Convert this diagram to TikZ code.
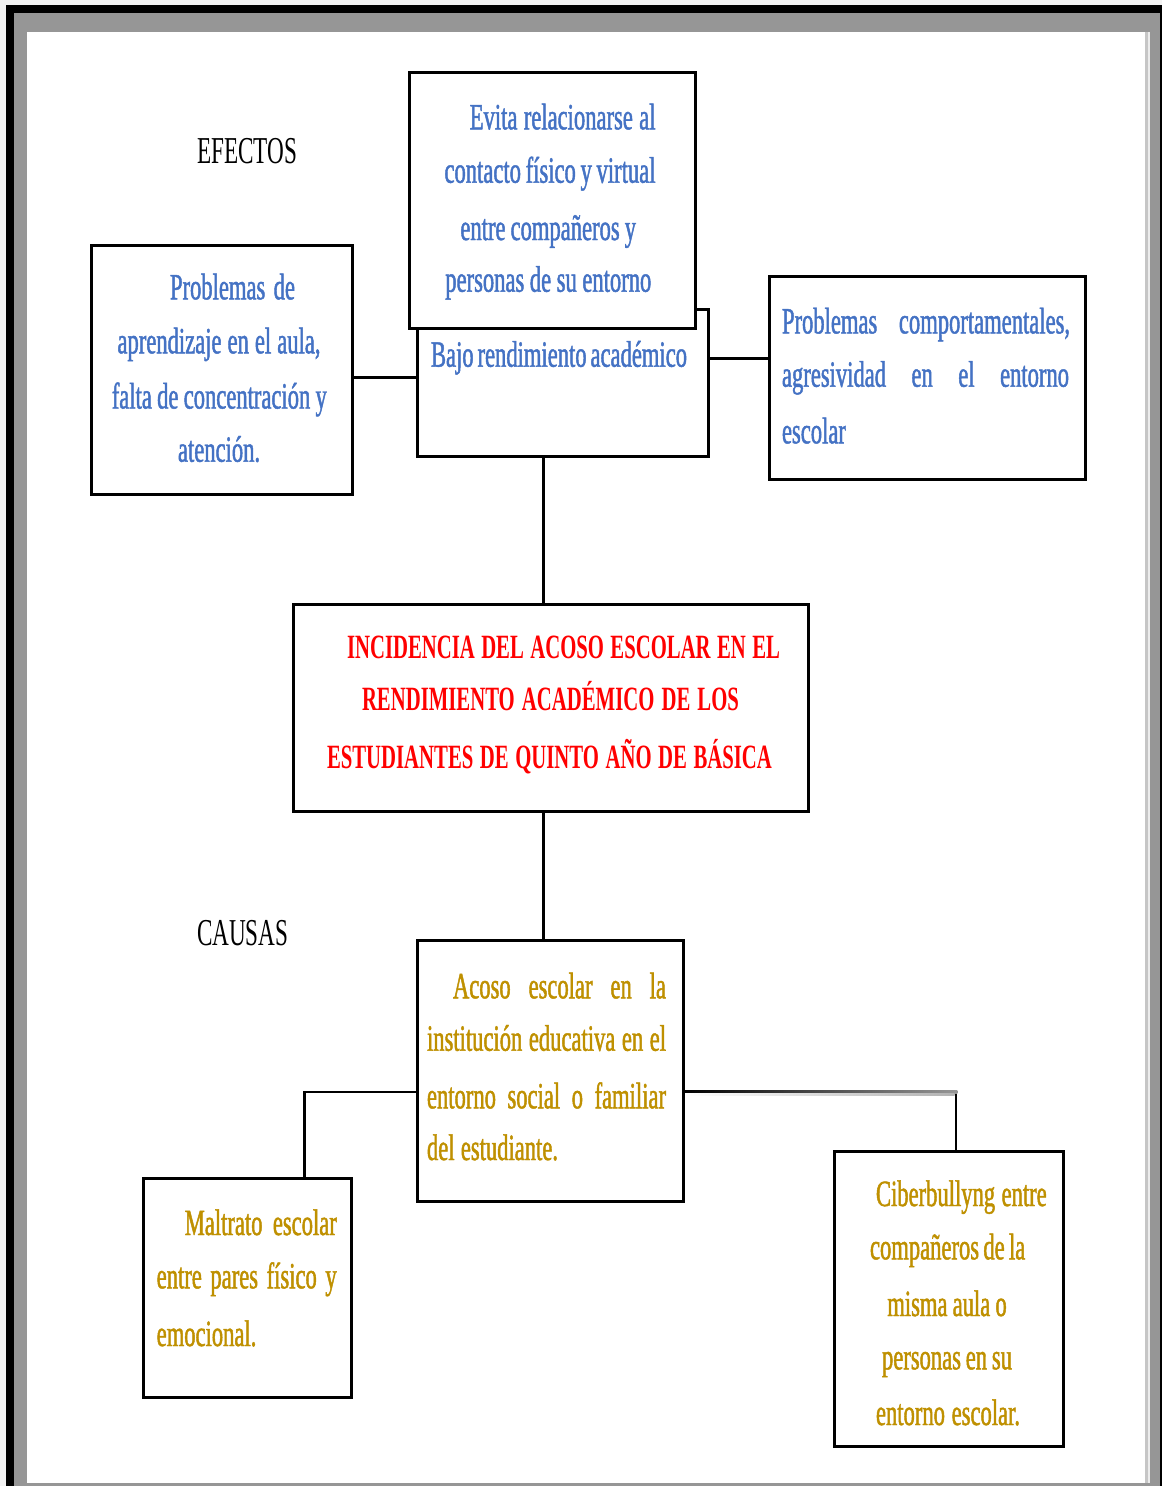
\documentclass[tikz,border=0pt]{standalone}
\usepackage{fontspec}
\setmainfont{Liberation Serif}[FakeStretch=0.61]
\newfontfamily\heavyfont{Liberation Serif}[FakeStretch=0.61, FakeBold=1.2]
\usetikzlibrary{calc}
\definecolor{tblue}{HTML}{4472C4}
\definecolor{tgold}{HTML}{BF9000}
\definecolor{tred}{HTML}{FF0000}
\definecolor{fgrey}{HTML}{969696}
\definecolor{paleg}{HTML}{F2F2F2}
\tikzset{
  box/.style={draw, line width=3pt, inner sep=0pt, fill=white},
  conn/.style={draw, line width=2.8pt, black},
  txt/.style={anchor=base west, inner sep=0pt, outer sep=0pt},
  bluetxt/.style={txt, text=tblue, font=\heavyfont\fontsize{37}{37}\selectfont},
  goldtxt/.style={txt, text=tgold, font=\heavyfont\fontsize{37}{37}\selectfont},
  redtxt/.style={txt, text=tred, font=\fontsize{34}{34}\selectfont\bfseries},
  headtxt/.style={txt, text=black, font=\fontsize{38}{38}\selectfont},
}
\begin{document}
\begin{tikzpicture}[x=1pt, y=-1pt]
\useasboundingbox (0,0) rectangle (1162,1486);
% page frame
\fill[paleg] (0,0) rectangle (1162,1486);
\fill[black] (6,5) rectangle (1162,1486);
\fill[fgrey] (14,13.3) rectangle (1160,1486);
\fill[white] (26.7,31.7) rectangle (1145,1482.7);
\fill[gray!45] (1145,31.7) rectangle (1147.5,1482.7);
\fill[gray!15] (1147.5,31.7) rectangle (1150,1482.7);

% headings
\node[headtxt] (efectos) at (197,163) {\makebox[99pt][s]{EFECTOS}};
\node[headtxt] (causas) at (197,945) {\makebox[90pt][s]{CAUSAS}};

% boxes
\node[box, minimum width=291pt, minimum height=146.5pt] (bajo) at (562.5,382.75) {};
\node[box, minimum width=285.5pt, minimum height=255.5pt] (evita) at (552.25,200.25) {};
\node[box, minimum width=261.5pt, minimum height=249pt] (aprend) at (221.75,369.5) {};
\node[box, minimum width=315.5pt, minimum height=203.5pt] (comport) at (927.25,377.75) {};
\node[box, minimum width=514.4pt, minimum height=206.6pt] (title) at (550.8,708) {};
\node[box, minimum width=266pt, minimum height=261pt] (acoso) at (550.5,1071) {};
\node[box, minimum width=207.5pt, minimum height=219pt] (maltrato) at (247.25,1288) {};
\node[box, minimum width=229.3pt, minimum height=294.7pt] (ciber) at (948.7,1299.3) {};

% connector guides
\coordinate (yl) at (0,377.7);
\coordinate (yr) at (0,358.7);
\coordinate (xc) at (543.5,0);
\coordinate (yc) at (0,1092);
\coordinate (xl) at (304.5,0);
\coordinate (xr) at (956,0);

\draw[conn] (aprend.east |- yl) -- (bajo.west |- yl);
\draw[conn] (bajo.east |- yr) -- (comport.west |- yr);
\draw[conn] (bajo.south -| xc) -- (title.north -| xc);
\draw[conn] (title.south -| xc) -- (acoso.north -| xc);
\draw[conn] (acoso.west |- yc) -| (maltrato.north -| xl);
\draw[conn] (acoso.east |- yc) -| (ciber.north -| xr);
\shade[left color=black, right color=fgrey] ($(acoso.east |- yc)+(0,-1.4)$) rectangle ($(xr |- yc)+(1.4,1.4)$);
\shade[left color=white, right color=gray!60] ($(acoso.east |- yc)+(0,1.4)$) rectangle ($(xr |- yc)+(-1.4,3.6)$);

% Evita box text
\node[bluetxt] (ev1) at (469.8,129.3) {\makebox[185.7pt][s]{Evita relacionarse al}};
\node[bluetxt] (ev2) at (444.5,182.7) {\makebox[211pt][s]{contacto físico y virtual}};
\node[bluetxt] (ev3) at (460.4,240) {\makebox[175.6pt][s]{entre compañeros y}};
\node[bluetxt] (ev4) at (445.3,291.7) {\makebox[206pt][s]{personas de su entorno}};

% Bajo
\node[bluetxt] (ba1) at (431,366.7) {\makebox[256pt][s]{Bajo rendimiento académico}};

% left effect
\node[bluetxt] (ap1) at (170,299.3) {\makebox[125pt][s]{Problemas de}};
\node[bluetxt] (ap2) at (117.5,353.3) {\makebox[203pt][s]{aprendizaje en el aula,}};
\node[bluetxt] (ap3) at (111.8,408.5) {\makebox[215pt][s]{falta de concentración y}};
\node[bluetxt] (ap4) at (178,461.7) {atención.};

% right effect
\node[bluetxt] (co1) at (782,333.4) {\makebox[288pt][s]{Problemas comportamentales,}};
\node[bluetxt] (co2) at (782,386.7) {\makebox[287pt][s]{agresividad en el entorno}};
\node[bluetxt] (co3) at (782,443.3) {escolar};

% title
\node[redtxt] (ti1) at (347,658.3) {\makebox[433pt][s]{INCIDENCIA DEL ACOSO ESCOLAR EN EL}};
\node[redtxt] (ti2) at (362,710.7) {\makebox[377pt][s]{RENDIMIENTO ACADÉMICO DE LOS}};
\node[redtxt] (ti3) at (327,768.3) {\makebox[445pt][s]{ESTUDIANTES DE QUINTO AÑO DE BÁSICA}};

% acoso
\node[goldtxt] (ac1) at (453,998.3) {\makebox[213pt][s]{Acoso escolar en la}};
\node[goldtxt] (ac2) at (427,1050.7) {\makebox[239pt][s]{institución educativa en el}};
\node[goldtxt] (ac3) at (427,1108.3) {\makebox[239pt][s]{entorno social o familiar}};
\node[goldtxt] (ac4) at (427,1160) {\makebox[131pt][s]{del estudiante.}};

% maltrato
\node[goldtxt] (ma1) at (184.8,1235) {\makebox[152pt][s]{Maltrato escolar}};
\node[goldtxt] (ma2) at (156.7,1288.3) {\makebox[180pt][s]{entre pares físico y}};
\node[goldtxt] (ma3) at (156.7,1346) {emocional.};

% ciber
\node[goldtxt] (ci1) at (876,1206) {\makebox[170.7pt][s]{Ciberbullyng entre}};
\node[goldtxt] (ci2) at (870,1259.3) {\makebox[155.3pt][s]{compañeros de la}};
\node[goldtxt] (ci3) at (887.3,1316) {\makebox[119.4pt][s]{misma aula o}};
\node[goldtxt] (ci4) at (882,1369.3) {\makebox[130pt][s]{personas en su}};
\node[goldtxt] (ci5) at (876,1425) {\makebox[144pt][s]{entorno escolar.}};
\end{tikzpicture}
\end{document}
